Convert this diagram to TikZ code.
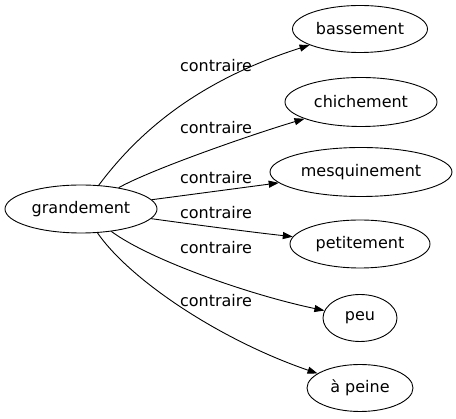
\documentclass[tikz,border=0pt]{standalone}
\usepackage{fontspec}
\setmainfont{DejaVu Sans}
\usetikzlibrary{arrows.meta,shapes.geometric}
\begin{document}
\begin{tikzpicture}[x=1pt,y=-1pt,
  word/.style={draw,ellipse,inner sep=0pt,line width=0.9pt,font=\fontsize{16}{19}\selectfont},
  lbl/.style={inner sep=0pt,font=\fontsize{16}{19}\selectfont},
  rel/.style={line width=0.9pt,-{Triangle[length=10pt,width=7pt]}}]
\useasboundingbox (0,0) rectangle (456,419);
\node[word,minimum width=152pt,minimum height=48pt] (g) at (81,209) {grandement};
\node[word,minimum width=135pt,minimum height=47pt] (b) at (360,29) {bassement};
\node[word,minimum width=152pt,minimum height=49pt] (c) at (361,102) {chichement};
\node[word,minimum width=182pt,minimum height=49pt] (m) at (361,172) {mesquinement};
\node[word,minimum width=140pt,minimum height=48pt] (p) at (360,244) {petitement};
\node[word,minimum width=74pt,minimum height=47pt] (u) at (360,318) {peu};
\node[word,minimum width=106pt,minimum height=47pt] (a) at (360,388) {à peine};
\node[lbl] (l1) at (216,66) {contraire};
\node[lbl] (l2) at (216,128) {contraire};
\node[lbl] (l3) at (216,178) {contraire};
\node[lbl] (l4) at (216,213) {contraire};
\node[lbl] (l5) at (216,248) {contraire};
\node[lbl] (l6) at (216,301) {contraire};
\draw[rel] (g) .. controls (140,130) and (200,80) .. (b);
\draw[rel] (g) .. controls (150,170) and (250,135) .. (c);
\draw[rel] (g) .. controls (180,196) and (240,188) .. (m);
\draw[rel] (g) .. controls (190,224) and (250,232) .. (p);
\draw[rel] (g) .. controls (150,260) and (250,295) .. (u);
\draw[rel] (g) .. controls (130,280) and (220,340) .. (a);
\end{tikzpicture}
\end{document}
